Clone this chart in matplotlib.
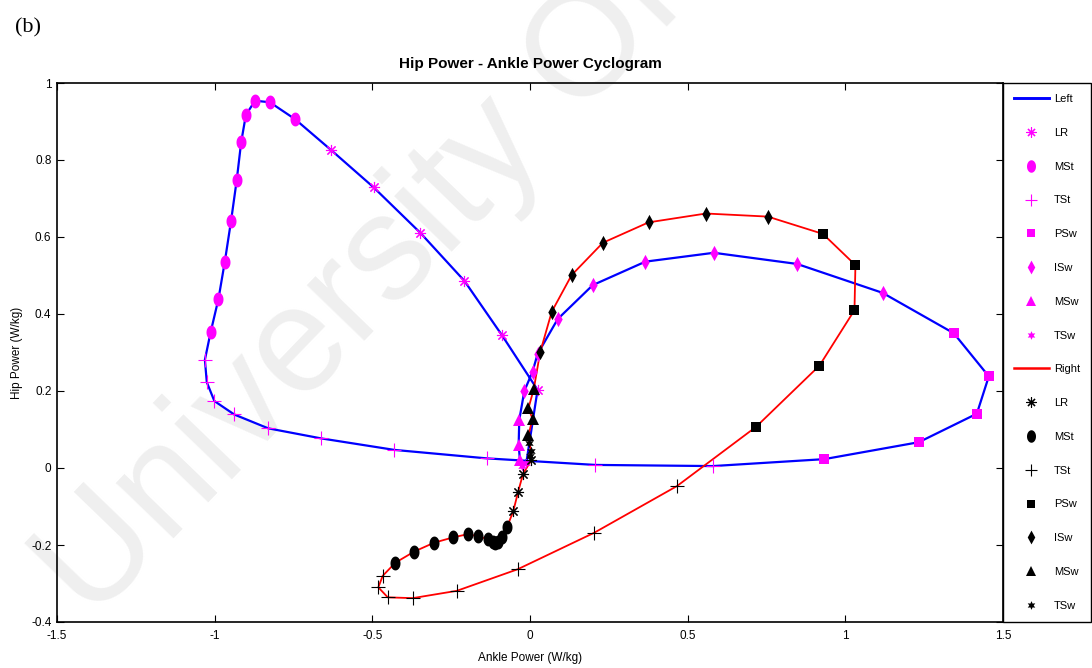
import numpy as np
import matplotlib
matplotlib.use("Agg")
from matplotlib import pyplot as plt
from matplotlib.path import Path
from matplotlib.lines import Line2D

plt.rcParams['font.family'] = ['Liberation Sans', 'DejaVu Sans']

# ---- left limb (blue line, magenta markers) ----
left_LR_x = [0.024, -0.089, -0.208, -0.348, -0.496, -0.631]
left_LR_y = [0.203, 0.345, 0.486, 0.611, 0.729, 0.826]
left_MSt_x = [-0.745, -0.825, -0.872, -0.901, -0.916, -0.930, -0.948, -0.968, -0.988, -1.013]
left_MSt_y = [0.906, 0.950, 0.954, 0.917, 0.846, 0.748, 0.642, 0.535, 0.439, 0.352]
left_TSt_x = [-1.031, -1.025, -1.001, -0.938, -0.830, -0.663, -0.430, -0.137, 0.207, 0.579]
left_TSt_y = [0.281, 0.223, 0.174, 0.139, 0.103, 0.077, 0.047, 0.025, 0.008, 0.005]
left_PSw_x = [0.933, 1.233, 1.417, 1.455, 1.344]
left_PSw_y = [0.023, 0.067, 0.141, 0.238, 0.350]
left_ISw_x = [1.118, 0.847, 0.583, 0.366, 0.199, 0.088, 0.024, 0.008, -0.018]
left_ISw_y = [0.455, 0.530, 0.559, 0.536, 0.475, 0.387, 0.296, 0.250, 0.200]
left_MSw_x = [-0.034, -0.036, -0.032]
left_MSw_y = [0.125, 0.060, 0.021]
left_TSw_x = [-0.025, -0.012]
left_TSw_y = [0.004, 0.012]

# ---- right limb (red line, black markers) ----
right_LR_x = [0.004, -0.022, -0.038, -0.053]
right_LR_y = [0.020, -0.015, -0.063, -0.112]
right_MSt_x = [-0.073, -0.090, -0.103, -0.112, -0.118, -0.134, -0.164, -0.198, -0.243, -0.304, -0.367, -0.427]
right_MSt_y = [-0.154, -0.178, -0.192, -0.196, -0.193, -0.185, -0.177, -0.172, -0.180, -0.194, -0.217, -0.246]
right_TSt_x = [-0.467, -0.481, -0.451, -0.372, -0.232, -0.039, 0.204, 0.466]
right_TSt_y = [-0.280, -0.310, -0.336, -0.338, -0.319, -0.263, -0.168, -0.047]
right_PSw_x = [0.717, 0.918, 1.029, 1.032, 0.929]
right_PSw_y = [0.107, 0.266, 0.410, 0.527, 0.608]
right_ISw_x = [0.754, 0.558, 0.376, 0.231, 0.132, 0.069, 0.032]
right_ISw_y = [0.653, 0.661, 0.638, 0.585, 0.501, 0.406, 0.300]
right_MSw_x = [0.012, -0.005, 0.008, -0.005]
right_MSw_y = [0.205, 0.155, 0.128, 0.085]
right_TSw_x = [-0.002, 0.003, -0.001]
right_TSw_y = [0.065, 0.045, 0.032]

phases = ['LR', 'MSt', 'TSt', 'PSw', 'ISw', 'MSw', 'TSw']

# tall ellipse / narrow diamond markers like the squeezed original
t = np.linspace(0, 2 * np.pi, 40)
ellipse = Path(np.column_stack([0.72 * np.cos(t), np.sin(t)]), closed=True)
thin_diamond = Path([(0, 1), (0.55, 0), (0, -1), (-0.55, 0), (0, 1)], closed=True)

mk = {
    'LR': dict(marker=(8, 2, 0), ms=8, mew=0.8),
    'MSt': dict(marker=ellipse, ms=10, mew=0),
    'TSt': dict(marker='+', ms=10, mew=0.8),
    'PSw': dict(marker='s', ms=6.5, mew=0),
    'ISw': dict(marker=thin_diamond, ms=11, mew=0),
    'MSw': dict(marker='^', ms=8, mew=0),
    'TSw': dict(marker=(6, 1, 0), ms=7, mew=0),
}

left = {
    'LR': (left_LR_x, left_LR_y), 'MSt': (left_MSt_x, left_MSt_y), 'TSt': (left_TSt_x, left_TSt_y),
    'PSw': (left_PSw_x, left_PSw_y), 'ISw': (left_ISw_x, left_ISw_y), 'MSw': (left_MSw_x, left_MSw_y),
    'TSw': (left_TSw_x, left_TSw_y),
}
right = {
    'LR': (right_LR_x, right_LR_y), 'MSt': (right_MSt_x, right_MSt_y), 'TSt': (right_TSt_x, right_TSt_y),
    'PSw': (right_PSw_x, right_PSw_y), 'ISw': (right_ISw_x, right_ISw_y), 'MSw': (right_MSw_x, right_MSw_y),
    'TSw': (right_TSw_x, right_TSw_y),
}

fig = plt.figure(figsize=(10.92, 6.68), dpi=100)
ax = fig.add_axes([57 / 1092, 1 - 622 / 668, 946 / 1092, 539 / 668])
ax.patch.set_alpha(0)

# watermark
fig.text(0.012, 0.035, 'University Of', fontsize=108, color='#efefef', rotation=46,
         family='Liberation Sans', ha='left', va='bottom', zorder=-5)

def draw_limb(data, line_color, mcolor, lw, label):
    xs = np.concatenate([data[p][0] for p in phases] + [data['LR'][0][:1]])
    ys = np.concatenate([data[p][1] for p in phases] + [data['LR'][1][:1]])
    ax.plot(xs, ys, color=line_color, lw=lw, zorder=2)
    handles = [Line2D([], [], color=line_color, lw=lw + 0.5)]
    labels = [label]
    for p in phases:
        s = mk[p]
        x, y = data[p]
        ax.plot(x, y, ls='none', marker=s['marker'], ms=s['ms'], mew=s['mew'],
                color=mcolor, mfc=mcolor, mec=mcolor, zorder=3)
        handles.append(Line2D([], [], ls='none', marker=s['marker'], ms=s['ms'] * 0.9,
                              mew=s['mew'], color=mcolor, mfc=mcolor, mec=mcolor))
        labels.append(p)
    return handles, labels

h1, l1 = draw_limb(left, '#0000ff', '#ff00ff', 1.6, 'Left')
h2, l2 = draw_limb(right, '#ff0000', 'black', 1.3, 'Right')

ax.set_xlim(-1.5, 1.5)
ax.set_ylim(-0.4, 1.0)
ax.set_xticks(np.arange(-1.5, 1.51, 0.5))
ax.set_yticks(np.arange(-0.4, 1.01, 0.2))
ax.set_xticklabels(['-1.5', '-1', '-0.5', '0', '0.5', '1', '1.5'])
ax.set_yticklabels(['-0.4', '-0.2', '0', '0.2', '0.4', '0.6', '0.8', '1'])
ax.tick_params(direction='in', length=5, width=0.8, top=True, right=True, labelsize=8.5)
ax.tick_params(axis='x', pad=6)
ax.tick_params(axis='y', pad=4)
for sp in ax.spines.values():
    sp.set_linewidth(1.2)

ax.set_xlabel('Ankle Power (W/kg)', fontsize=8.5, labelpad=7)
ax.set_ylabel('Hip Power (W/kg)', fontsize=8.5, labelpad=6)
ax.set_title('Hip Power - Ankle Power Cyclogram', fontsize=11, fontweight='bold', pad=11)

leg = ax.legend(h1 + h2, l1 + l2, loc='upper left', bbox_to_anchor=(1.0, 1.0), borderaxespad=0,
                fontsize=8, labelspacing=2.14, borderpad=1.0, handlelength=3.1, handletextpad=0.5,
                fancybox=False, edgecolor='black', framealpha=1)
leg.get_frame().set_linewidth(1.0)

fig.text(15 / 1092, 1 - 28 / 668, '(b)', fontsize=16, family='Liberation Serif', va='center', ha='left')

fig.savefig('out.png', dpi=100)
